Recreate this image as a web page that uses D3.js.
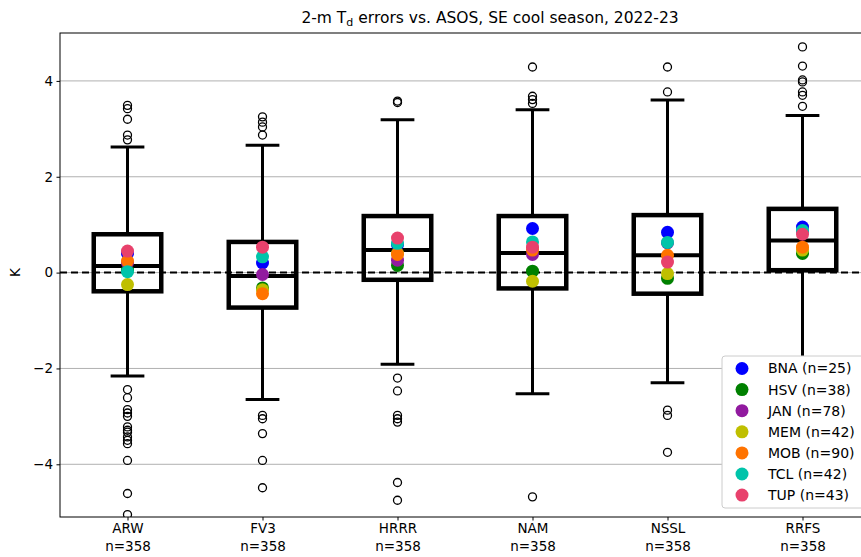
<!DOCTYPE html>
<html>
<head>
<meta charset="utf-8">
<script src="https://cdn.jsdelivr.net/npm/d3@7/dist/d3.min.js"></script>
<style>
  html, body { margin: 0; padding: 0; background: #fff; }
  svg { display: block; font-family: "DejaVu Sans", sans-serif; }
</style>
</head>
<body>
<svg id="chart" width="861" height="557"></svg>
<script>
// Models on the x axis and their sample sizes
const models = ["ARW", "FV3", "HRRR", "NAM", "NSSL", "RRFS"];
const modelCounts = [358, 358, 358, 358, 358, 358];

// Box statistics of 2-m dewpoint error (K) per model
const q1        = [-0.39, -0.73, -0.15, -0.33, -0.44, 0.05];
const medians   = [0.14, -0.07, 0.47, 0.41, 0.36, 0.67];
const q3        = [0.80, 0.64, 1.18, 1.18, 1.20, 1.33];
const whiskerLo = [-2.16, -2.65, -1.91, -2.53, -2.30, -1.95];
const whiskerHi = [2.62, 2.66, 3.19, 3.40, 3.60, 3.28];

// Outliers beyond the whiskers
const outliers = [
  [3.49, 3.42, 3.20, 2.87, 2.77, -2.44, -2.61, -2.86, -2.93, -3.00, -3.22, -3.29, -3.33, -3.43, -3.50, -3.57, -3.92, -4.61, -5.05],
  [3.25, 3.14, 3.04, 2.87, -2.98, -3.05, -3.36, -3.92, -4.49],
  [3.58, 3.55, -2.20, -2.47, -2.98, -3.05, -3.12, -4.38, -4.75],
  [4.29, 3.68, 3.61, 3.53, -4.68],
  [4.29, 3.77, -2.87, -2.98, -3.75],
  [4.71, 4.31, 4.02, 3.98, 3.77, 3.70, 3.47]
];

// Mean error of each ASOS station, per model (ARW, FV3, HRRR, NAM, NSSL, RRFS)
const stations = ["BNA", "HSV", "JAN", "MEM", "MOB", "TCL", "TUP"];
const stationCounts = [25, 38, 78, 42, 90, 42, 43];
const stationColors = ["#0000ff", "#008000", "#911a9f", "#bfbf00", "#ff7300", "#00c4aa", "#e8416c"];
const BNA = [0.40, 0.20, 0.58, 0.92, 0.84, 0.95];
const HSV = [0.05, -0.32, 0.15, 0.03, -0.12, 0.40];
const JAN = [0.20, -0.04, 0.26, 0.38, 0.62, 0.85];
const MEM = [-0.25, -0.36, 0.40, -0.18, -0.02, 0.47];
const MOB = [0.24, -0.44, 0.38, 0.47, 0.36, 0.53];
const TCL = [0.02, 0.33, 0.61, 0.64, 0.63, 0.88];
const TUP = [0.45, 0.53, 0.72, 0.53, 0.22, 0.80];
const stationValues = [BNA, HSV, JAN, MEM, MOB, TCL, TUP];

const yTicks = [-4, -2, 0, 2, 4];

const svg = d3.select("#chart");
const margin = { left: 60, top: 33, bottom: 517, right: 870 };

const x = d3.scaleLinear().domain([0.5, 6.5]).range([margin.left, margin.right]);
const y = d3.scaleLinear().domain([-5.1, 5]).range([margin.bottom, margin.top]);
const boxHalf = x(1.25) - x(1);
const capHalf = x(1.125) - x(1);

svg.append("defs").append("clipPath").attr("id", "plot-clip")
  .append("rect")
  .attr("x", margin.left).attr("y", margin.top)
  .attr("width", margin.right - margin.left).attr("height", margin.bottom - margin.top);

// Horizontal grid
svg.append("g").selectAll("line").data(yTicks).join("line")
  .attr("x1", margin.left).attr("x2", margin.right)
  .attr("y1", d => y(d)).attr("y2", d => y(d))
  .attr("stroke", "#b0b0b0").attr("stroke-width", 1);

const plot = svg.append("g").attr("clip-path", "url(#plot-clip)");

// Zero line
plot.append("line")
  .attr("x1", margin.left).attr("x2", margin.right)
  .attr("y1", y(0)).attr("y2", y(0))
  .attr("stroke", "#000").attr("stroke-width", 2).attr("stroke-dasharray", "7,4");

// Boxes, whiskers, caps and medians
const boxes = plot.append("g").selectAll("g").data(models).join("g");
boxes.each(function(m, i) {
  const g = d3.select(this);
  const cx = x(i + 1);
  g.append("line").attr("x1", cx).attr("x2", cx).attr("y1", y(q3[i])).attr("y2", y(whiskerHi[i]))
    .attr("stroke", "#000").attr("stroke-width", 3);
  g.append("line").attr("x1", cx).attr("x2", cx).attr("y1", y(q1[i])).attr("y2", y(whiskerLo[i]))
    .attr("stroke", "#000").attr("stroke-width", 3);
  [whiskerHi[i], whiskerLo[i]].forEach(v => {
    g.append("line").attr("x1", cx - capHalf).attr("x2", cx + capHalf).attr("y1", y(v)).attr("y2", y(v))
      .attr("stroke", "#000").attr("stroke-width", 3);
  });
  g.append("rect")
    .attr("x", cx - boxHalf).attr("width", 2 * boxHalf)
    .attr("y", y(q3[i])).attr("height", y(q1[i]) - y(q3[i]))
    .attr("fill", "none").attr("stroke", "#000").attr("stroke-width", 4.5);
  g.append("line").attr("x1", cx - boxHalf).attr("x2", cx + boxHalf)
    .attr("y1", y(medians[i])).attr("y2", y(medians[i]))
    .attr("stroke", "#000").attr("stroke-width", 4);
  g.selectAll("circle.flier").data(outliers[i]).join("circle")
    .attr("class", "flier")
    .attr("cx", cx).attr("cy", d => y(d)).attr("r", 4)
    .attr("fill", "none").attr("stroke", "#000").attr("stroke-width", 1.3);
});

// Station means
stations.forEach((s, k) => {
  plot.append("g").selectAll("circle").data(stationValues[k]).join("circle")
    .attr("cx", (d, i) => x(i + 1)).attr("cy", d => y(d)).attr("r", 6.5)
    .attr("fill", stationColors[k]);
});

// Axes
const yAxis = svg.append("g").attr("transform", `translate(${margin.left},0)`)
  .call(d3.axisLeft(y).tickValues(yTicks).tickSize(3.5).tickPadding(3.5)
    .tickFormat(d => d < 0 ? "\u2212" + Math.abs(d) : String(d)));
yAxis.select(".domain").remove();
yAxis.selectAll("text").attr("font-size", 13.5).attr("fill", "#000").attr("font-family", "DejaVu Sans");
yAxis.selectAll("line").attr("stroke", "#000");

const xAxis = svg.append("g").attr("transform", `translate(0,${margin.bottom})`)
  .call(d3.axisBottom(x).tickValues(d3.range(1, 7)).tickSize(3.5).tickFormat(""));
xAxis.select(".domain").remove();
xAxis.selectAll("line").attr("stroke", "#000");
xAxis.selectAll(".tick").each(function(d) {
  const t = d3.select(this).append("text")
    .attr("fill", "#000").attr("font-size", 13.5).attr("text-anchor", "middle")
    .attr("font-family", "DejaVu Sans");
  t.append("tspan").attr("x", 0).attr("y", 16).text(models[d - 1]);
  t.append("tspan").attr("x", 0).attr("y", 34).text("n=" + modelCounts[d - 1]);
});

// Frame
svg.append("rect")
  .attr("x", margin.left).attr("y", margin.top)
  .attr("width", margin.right - margin.left).attr("height", margin.bottom - margin.top)
  .attr("fill", "none").attr("stroke", "#000").attr("stroke-width", 1);

// Y label
svg.append("text")
  .attr("transform", `translate(20,${y(0)}) rotate(-90)`)
  .attr("text-anchor", "middle").attr("font-size", 13.5).attr("fill", "#000")
  .text("K");

// Title
const title = svg.append("text")
  .attr("x", 490).attr("y", 23).attr("text-anchor", "middle")
  .attr("font-size", 15.5).attr("fill", "#000");
title.append("tspan").text("2-m T");
title.append("tspan").attr("font-size", 11).attr("dy", 3).text("d");
title.append("tspan").attr("dy", -3).text(" errors vs. ASOS, SE cool season, 2022-23");

// Legend
const legend = svg.append("g");
legend.append("rect")
  .attr("x", 722).attr("y", 356).attr("width", 160).attr("height", 152)
  .attr("rx", 3).attr("fill", "#fff").attr("stroke", "#cccccc").attr("stroke-width", 1);
const rows = legend.selectAll("g.row").data(stations).join("g")
  .attr("class", "row")
  .attr("transform", (d, k) => `translate(0,${368.5 + k * 21.1})`);
rows.append("circle").attr("cx", 742).attr("cy", 0).attr("r", 6.5)
  .attr("fill", (d, k) => stationColors[k]);
rows.append("text").attr("x", 768).attr("y", 0).attr("dy", "0.35em")
  .attr("font-size", 14).attr("fill", "#000")
  .text((d, k) => `${d} (n=${stationCounts[k]})`);
</script>
</body>
</html>
